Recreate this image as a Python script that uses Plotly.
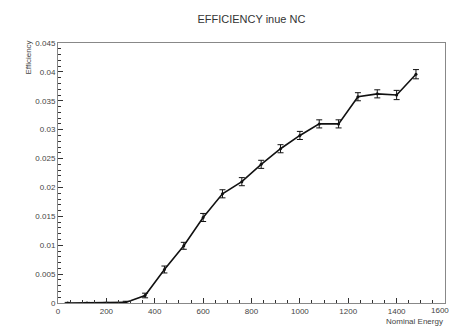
import plotly.graph_objects as go

energy = [40, 120, 200, 280, 360, 440, 520, 600, 680, 760, 840, 920, 1000,
          1080, 1160, 1240, 1320, 1400, 1480]
efficiency = [0.0, 0.0, 0.0, 0.0001, 0.0013, 0.0058, 0.0099, 0.0148, 0.0189,
              0.0210, 0.0240, 0.0267, 0.0290, 0.0310, 0.0310, 0.0357, 0.0362,
              0.0360, 0.0396]
err = [0.0001, 0.0001, 0.0001, 0.0002, 0.0004, 0.0006, 0.0006, 0.0007, 0.0007,
       0.0007, 0.0007, 0.0007, 0.0007, 0.0007, 0.0007, 0.0007, 0.0007,
       0.0008, 0.0008]
x_tickvals = [0, 200, 400, 600, 800, 1000, 1200, 1400, 1600]
x_ticktext = ["0", "200", "400", "600", "800", "1000", "1200", "1400", ""]
last_x_label = "1600"

fig = go.Figure()
fig.add_trace(go.Scatter(
    x=energy, y=efficiency, mode="lines+markers",
    line=dict(color="#111111", width=1.6),
    marker=dict(color="#111111", size=3),
    error_y=dict(type="data", array=err, visible=True, color="#111111",
                 thickness=1, width=3),
))

axis_font = dict(family="Liberation Sans, Arial, sans-serif", size=8, color="#444444")
fig.update_layout(
    width=453, height=326,
    margin=dict(l=58, r=8, t=43, b=23, autoexpand=False),
    paper_bgcolor="white", plot_bgcolor="white",
    showlegend=False,
    title=dict(text="EFFICIENCY inue NC", x=0.555, xanchor="center", y=0.94,
               yanchor="middle",
               font=dict(family="Liberation Sans, Arial, sans-serif", size=11,
                         color="#333333")),
    xaxis=dict(range=[0, 1600], tickvals=x_tickvals, ticktext=x_ticktext,
               ticks="inside", ticklen=5,
               tickcolor="#333333", showgrid=False, zeroline=False,
               showline=True, linecolor="#888888", mirror=True,
               tickfont=axis_font, automargin=False,
               minor=dict(dtick=50, ticks="inside", ticklen=3, tickcolor="#333333")),
    yaxis=dict(range=[0, 0.045], dtick=0.005, tick0=0, ticks="inside", ticklen=5,
               tickcolor="#333333", showgrid=False, zeroline=False,
               showline=True, linecolor="#888888", mirror=True,
               tickfont=axis_font, tickformat="~g", ticklabeloverflow="allow",
               automargin=False,
               minor=dict(dtick=0.001, ticks="inside", ticklen=3, tickcolor="#333333")),
    annotations=[
        dict(text=last_x_label, xref="x", yref="paper", x=1600, y=0,
             xanchor="center", yanchor="top", xshift=-5, yshift=-1,
             showarrow=False, font=axis_font),
        dict(text="Nominal Energy", xref="paper", yref="paper", x=1, y=0,
             xanchor="right", yanchor="top", yshift=-12, showarrow=False,
             font=axis_font),
        dict(text="Efficiency", xref="paper", yref="paper", x=0, y=1,
             xanchor="right", yanchor="top", xshift=-24, yshift=4,
             textangle=-90, showarrow=False, font=axis_font),
    ],
)

fig.write_html("out.html")
